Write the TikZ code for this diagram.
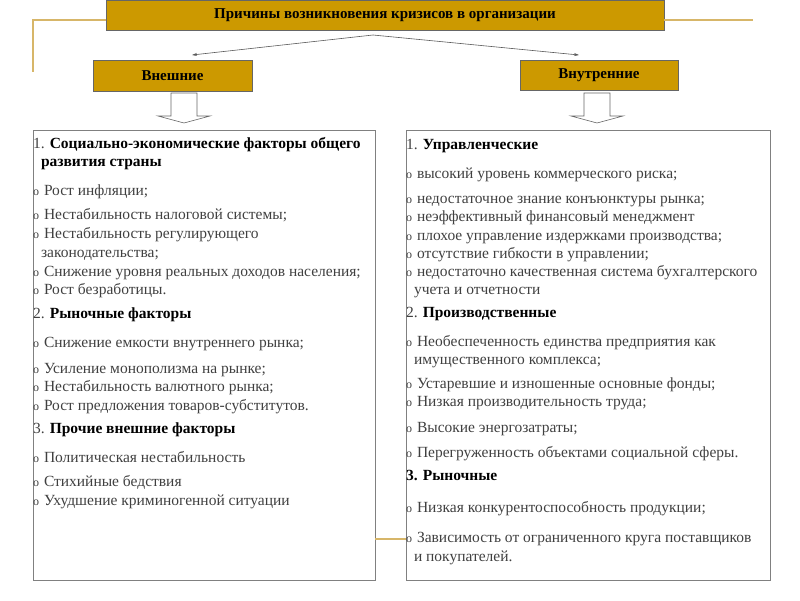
\documentclass[tikz,border=0pt]{standalone}
\usepackage{fontspec}
\setmainfont{Liberation Serif}
\usetikzlibrary{arrows.meta,positioning}

\definecolor{boxgold}{RGB}{204,153,0}
\definecolor{linegold}{RGB}{215,182,105}
\definecolor{itemgray}{RGB}{64,64,64}

\newcommand{\bul}{\makebox[11pt][l]{\fontsize{12}{12}\selectfont o}}
\newcommand{\num}[1]{{\color{itemgray}\mdseries #1}}

\begin{document}
\begin{tikzpicture}[x=1pt, y=-1pt,
  every node/.style={inner sep=0pt, outer sep=0pt},
  catbox/.style={draw=black!60, fill=boxgold, line width=0.8pt, font=\bfseries\fontsize{15}{15}\selectfont},
  listbox/.style={draw=black!50, line width=1pt},
  item/.style={anchor=base west, text=itemgray, font=\fontsize{15.5}{15.5}\selectfont},
  head/.style={anchor=base west, font=\bfseries\fontsize{15.5}{15.5}\selectfont},
  goldline/.style={draw=linegold, line width=1.5pt},
  hollow/.pic={\draw[black!60, fill=white, line width=0.6pt]
    (-13,0) -- (13,0) -- (13,23) -- (26,23) -- (0,30) -- (-26,23) -- (-13,23) -- cycle;}]

\useasboundingbox (0,0) rectangle (800,600);

% =========================
% ROOT AND CATEGORIES
% =========================

% Root
\node[catbox, minimum width=558, minimum height=30] (root) at (385,15)
  {Причины возникновения кризисов в организации};

% Template lines
\coordinate (goldL) at (33,72);
\coordinate (goldR) at (753,20);
\draw[goldline] (root.west |- goldR) -| (goldL);
\draw[goldline] (root.east |- goldR) -- (goldR);

% Categories
\node[catbox, minimum width=159, minimum height=31] (ext) at (172.5,75.5) {Внешние};
\node[catbox, minimum width=158, minimum height=30] (int) at (599,75) {Внутренние};

% Split arrows
\coordinate (split) at ([xshift=-12pt, yshift=-5pt]root.south);
\draw[->, >={Stealth[length=5pt, width=3pt]}, black!65, line width=0.6pt]
  (split) -- ([xshift=19.5pt, yshift=5pt]ext.north);
\draw[->, >={Stealth[length=5pt, width=3pt]}, black!65, line width=0.6pt]
  (split) -- ([xshift=-20pt, yshift=5pt]int.north);

% Down arrows
\pic at ([xshift=11.5pt, yshift=-2pt]ext.south) {hollow};
\pic at ([xshift=-2pt, yshift=-3pt]int.south) {hollow};

% =========================
% LISTS
% =========================

\node[listbox, minimum width=342, minimum height=450] (extlist) at (204,355) {};
\node[listbox, minimum width=364, minimum height=450] (intlist) at (588,355) {};

% Link between lists
\draw[goldline] (extlist.east |- 0,539) -- (intlist.west |- 0,539);

% External factors
\node[head] (e1) at (33,148) {\num{1.} Социально-экономические факторы общего};
\node[head] (e2) at (41,166) {развития страны};
\node[item] (e3) at (33,195) {\bul Рост инфляции;};
\node[item] (e4) at (33,219) {\bul Нестабильность налоговой системы;};
\node[item] (e5) at (33,238) {\bul Нестабильность регулирующего};
\node[item] (e6) at (41,257) {законодательства;};
\node[item] (e7) at (33,276) {\bul Снижение уровня реальных доходов населения;};
\node[item] (e8) at (33,294) {\bul Рост безработицы.};
\node[head] (e9) at (33,318) {\num{2.} Рыночные факторы};
\node[item] (e10) at (33,347) {\bul Снижение емкости внутреннего рынка;};
\node[item] (e11) at (33,373) {\bul Усиление монополизма на рынке;};
\node[item] (e12) at (33,391) {\bul Нестабильность валютного рынка;};
\node[item] (e13) at (33,410) {\bul Рост предложения товаров-субститутов.};
\node[head] (e14) at (33,433) {\num{3.} Прочие внешние факторы};
\node[item] (e15) at (33,462) {\bul Политическая нестабильность};
\node[item] (e16) at (33,486) {\bul Стихийные бедствия};
\node[item] (e17) at (33,505) {\bul Ухудшение криминогенной ситуации};

% Internal factors
\node[head] (i1) at (406,149) {\num{1.} Управленческие};
\node[item] (i2) at (406,178) {\bul высокий уровень коммерческого риска;};
\node[item] (i3) at (406,203) {\bul недостаточное знание конъюнктуры рынка;};
\node[item] (i4) at (406,221) {\bul неэффективный финансовый менеджмент};
\node[item] (i5) at (406,240) {\bul плохое управление издержками производства;};
\node[item] (i6) at (406,258) {\bul отсутствие гибкости в управлении;};
\node[item] (i7) at (406,276) {\bul недостаточно качественная система бухгалтерского};
\node[item] (i8) at (414,294) {учета и отчетности};
\node[head] (i9) at (406,317) {\num{2.} Производственные};
\node[item] (i10) at (406,346) {\bul Необеспеченность единства предприятия как};
\node[item] (i11) at (414,364) {имущественного комплекса;};
\node[item] (i12) at (406,388) {\bul Устаревшие и изношенные основные фонды;};
\node[item] (i13) at (406,406) {\bul Низкая производительность труда;};
\node[item] (i14) at (406,432) {\bul Высокие энергозатраты;};
\node[item] (i15) at (406,457) {\bul Перегруженность объектами социальной сферы.};
\node[head] (i16) at (406,480) {3. Рыночные};
\node[item] (i17) at (406,512) {\bul Низкая конкурентоспособность продукции;};
\node[item] (i18) at (406,542) {\bul Зависимость от ограниченного круга поставщиков};
\node[item] (i19) at (414,561) {и покупателей.};

\end{tikzpicture}
\end{document}
